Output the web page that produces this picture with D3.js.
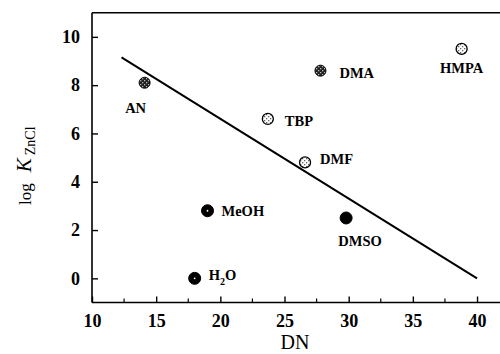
<!DOCTYPE html>
<html>
<head>
<meta charset="utf-8">
<script src="https://cdn.jsdelivr.net/npm/d3@7"></script>
<style>
  body { margin: 0; background: #fff; }
  svg { display: block; }
</style>
</head>
<body>
<div id="chart"></div>
<script>
// solvent data: donor number vs log K
const solvents = ["AN", "H2O", "MeOH", "TBP", "DMF", "DMA", "DMSO", "HMPA"];
const dnValues = [14.1, 18.0, 19.0, 23.7, 26.6, 27.8, 29.8, 38.8];
const logKValues = [8.1, 0.0, 2.8, 6.6, 4.8, 8.6, 2.5, 9.5];
const markerKind = ["dark", "black", "black", "light", "light", "dark", "black", "light"];

// fitted line end points
const fitDN = [12.3, 40.0];
const fitLogK = [9.15, 0.0];

const xTicks = [10, 15, 20, 25, 30, 35, 40];
const yTicks = [0, 2, 4, 6, 8, 10];

// label placement (pixels, relative to marker)
const labelPos = {
  AN:   {dx: -9, dy: 30, anchor: "middle"},
  H2O:  {dx: 14, dy: 2, anchor: "start"},
  MeOH: {dx: 14, dy: 5, anchor: "start"},
  TBP:  {dx: 17, dy: 7, anchor: "start"},
  DMF:  {dx: 15, dy: 2, anchor: "start"},
  DMA:  {dx: 19, dy: 7, anchor: "start"},
  DMSO: {dx: 14, dy: 28, anchor: "middle"},
  HMPA: {dx: 0, dy: 24, anchor: "middle"}
};

const width = 500, height = 354;
const svg = d3.select("#chart").append("svg")
  .attr("width", width)
  .attr("height", height);

const x = d3.scaleLinear().domain([10, 42]).range([92, 502.7]);
const y = d3.scaleLinear().domain([-1, 11]).range([302.5, 12.7]);

const serif = "'Liberation Serif', 'Times New Roman', serif";

// speckle patterns for the grey markers
const defs = svg.append("defs");
function speckle(id, bg, fg) {
  const p = defs.append("pattern")
    .attr("id", id)
    .attr("patternUnits", "userSpaceOnUse")
    .attr("width", 4).attr("height", 4);
  p.append("rect").attr("width", 4).attr("height", 4).attr("fill", bg);
  p.append("rect").attr("x", 0).attr("y", 0).attr("width", 1.3).attr("height", 1.3).attr("fill", fg);
  p.append("rect").attr("x", 2).attr("y", 2).attr("width", 1.3).attr("height", 1.3).attr("fill", fg);
}
speckle("darkSpeckle", "#222", "#bbb");
speckle("lightSpeckle", "#fff", "#666");

const fills = {dark: "url(#darkSpeckle)", light: "url(#lightSpeckle)", black: "#000"};

// frame: left, bottom and top lines
const x0 = x(10), x1 = x(42), yb = y(-1), yt = y(11);
svg.append("line").attr("x1", x0).attr("x2", x0).attr("y1", yt).attr("y2", yb)
  .attr("stroke", "#000").attr("stroke-width", 1.6);
svg.append("line").attr("x1", x0).attr("x2", x1).attr("y1", yb).attr("y2", yb)
  .attr("stroke", "#000").attr("stroke-width", 1.6);
svg.append("line").attr("x1", x0).attr("x2", x1).attr("y1", yt).attr("y2", yt)
  .attr("stroke", "#000").attr("stroke-width", 1.6);

// x axis ticks (inside) with minor ticks
const xAxis = svg.append("g")
  .attr("transform", `translate(0,${yb})`)
  .call(d3.axisBottom(x).tickValues(xTicks).tickSizeInner(-6).tickSizeOuter(0).tickPadding(12));
xAxis.select(".domain").remove();
xAxis.selectAll("text")
  .attr("font-family", serif).attr("font-size", 18).attr("font-weight", "bold").attr("fill", "#000");
xAxis.selectAll("line").attr("stroke-width", 1.4);
const minorX = xTicks.map(v => v + 2.5).filter(v => v < 42);
svg.append("g").selectAll("line").data(minorX).join("line")
  .attr("x1", d => x(d)).attr("x2", d => x(d))
  .attr("y1", yb).attr("y2", yb - 4)
  .attr("stroke", "#000").attr("stroke-width", 1.2);

// y axis ticks (inside)
const yAxis = svg.append("g")
  .attr("transform", `translate(${x0},0)`)
  .call(d3.axisLeft(y).tickValues(yTicks).tickSizeInner(-6).tickSizeOuter(0).tickPadding(12));
yAxis.select(".domain").remove();
yAxis.selectAll("text")
  .attr("font-family", serif).attr("font-size", 18).attr("font-weight", "bold").attr("fill", "#000");
yAxis.selectAll("line").attr("stroke-width", 1.4);

// axis titles
svg.append("text")
  .attr("x", 295).attr("y", 349)
  .attr("text-anchor", "middle")
  .attr("font-family", serif).attr("font-size", 20)
  .text("DN");

const yTitle = svg.append("text")
  .attr("transform", "translate(31,205) rotate(-90)")
  .attr("text-anchor", "start")
  .attr("font-family", serif).attr("font-size", 17);
yTitle.append("tspan").text("log");
yTitle.append("tspan").attr("dx", 11).attr("font-style", "italic").attr("font-size", 21).text("K");
yTitle.append("tspan").attr("dx", 3).attr("font-size", 14).attr("dy", 4).text("ZnCl");

// fitted line
svg.append("line")
  .attr("x1", x(fitDN[0])).attr("y1", y(fitLogK[0]))
  .attr("x2", x(fitDN[1])).attr("y2", y(fitLogK[1]))
  .attr("stroke", "#000").attr("stroke-width", 2);

// markers
const pts = solvents.map((s, i) => ({name: s, dn: dnValues[i], k: logKValues[i], kind: markerKind[i]}));

svg.append("g").selectAll("circle").data(pts).join("circle")
  .attr("cx", d => x(d.dn)).attr("cy", d => y(d.k))
  .attr("r", d => d.kind === "black" ? 6 : 5.5)
  .attr("fill", d => fills[d.kind])
  .attr("stroke", "#000").attr("stroke-width", d => d.kind === "light" ? 1.3 : 1);

// tiny highlight dots in MeOH and H2O markers
svg.append("g").selectAll("circle").data(pts.filter(d => d.name === "MeOH" || d.name === "H2O")).join("circle")
  .attr("cx", d => x(d.dn)).attr("cy", d => y(d.k))
  .attr("r", 0.9).attr("fill", "#fff");

// labels
const labels = svg.append("g").selectAll("text").data(pts).join("text")
  .attr("x", d => x(d.dn) + labelPos[d.name].dx)
  .attr("y", d => y(d.k) + labelPos[d.name].dy)
  .attr("text-anchor", d => labelPos[d.name].anchor)
  .attr("font-family", serif).attr("font-size", 14.5).attr("font-weight", "bold")
  .attr("fill", "#000");

labels.each(function(d) {
  const t = d3.select(this);
  if (d.name === "H2O") {
    t.append("tspan").text("H");
    t.append("tspan").attr("font-size", 10).attr("dy", 5).text("2");
    t.append("tspan").attr("dy", -5).text("O");
  } else {
    t.text(d.name);
  }
});
</script>
</body>
</html>
